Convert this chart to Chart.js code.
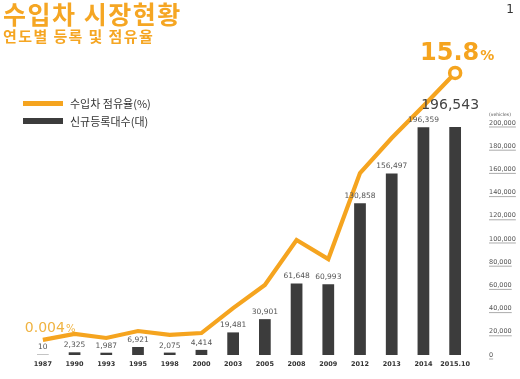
<!DOCTYPE html>
<html>
<head>
<meta charset="utf-8">
<script src="https://cdn.jsdelivr.net/npm/chart.js@4"></script>
<style>
  html, body { margin: 0; padding: 0; background: #fff; }
  #wrap { position: relative; width: 520px; height: 379px; overflow: hidden; }
  #c { position: absolute; left: 0; top: 0; }
  .t { position: absolute; white-space: nowrap; font-family: "Noto Sans CJK KR", sans-serif; }
  #title { left: 3px; top: 1px; font-size: 25px; line-height: 25px; font-weight: 700; color: #f5a623; letter-spacing: 1.5px; }
  #sub { left: 3px; top: 28px; font-size: 15px; line-height: 15px; font-weight: 700; color: #f5a623; letter-spacing: 1.4px; }
  #pg { right: 6px; top: 3px; font-size: 12px; line-height: 12px; color: #333; font-family: "DejaVu Sans", sans-serif; }
</style>
</head>
<body>
<div id="wrap">
  <canvas id="c" width="520" height="379"></canvas>
  <div class="t" id="title">수입차 시장현황</div>
  <div class="t" id="sub">연도별 등록 및 점유율</div>
  <div class="t" id="pg">1</div>
</div>
<script>
const categories = ['1987','1990','1993','1995','1998','2000','2003','2005','2008','2009','2012','2013','2014','2015.10'];
const registrations = [10, 2325, 1987, 6921, 2075, 4414, 19481, 30901, 61648, 60993, 130858, 156497, 196359, 196543];
const sharePercent = [0.004, 0.36, 0.12, 0.53, 0.30, 0.41, 1.89, 3.25, 5.92, 4.79, 9.88, 11.95, 13.85, 15.8];
const axisTickValues = [0, 20000, 40000, 60000, 80000, 100000, 120000, 140000, 160000, 180000, 200000];
const seriesNames = ['수입차 점유율(%)', '신규등록대수(대)'];
const axisUnit = '(vehicles)';

const ORANGE = '#f5a41f';
const BAR = '#3c3c3c';

const fmt = v => Number(v).toLocaleString('en-US');
const topTick = axisTickValues[axisTickValues.length - 1];

const annotations = {
  id: 'annotations',
  afterDatasetsDraw(chart) {
    const ctx = chart.ctx;
    const barMeta = chart.getDatasetMeta(1);
    const lineMeta = chart.getDatasetMeta(0);
    ctx.save();
    ctx.textAlign = 'center';
    ctx.textBaseline = 'middle';
    barMeta.data.forEach((bar, i) => {
      const last = i === registrations.length - 1;
      if (last) {
        ctx.font = '14px "DejaVu Sans"';
        ctx.fillStyle = '#444';
        ctx.fillText(fmt(registrations[i]), bar.x - 5, bar.y - 22);
      } else {
        ctx.font = '7.5px "DejaVu Sans"';
        ctx.fillStyle = '#555';
        ctx.fillText(fmt(registrations[i]), bar.x, bar.y - 7);
      }
    });
    const p0 = lineMeta.data[0];
    const pN = lineMeta.data[lineMeta.data.length - 1];
    ctx.textBaseline = 'alphabetic';
    ctx.textAlign = 'left';
    ctx.fillStyle = '#f0b340';
    ctx.font = '14px "DejaVu Sans"';
    const s0 = String(sharePercent[0]);
    const x0 = p0.x - 18;
    ctx.fillText(s0, x0, p0.y - 8);
    const w0 = ctx.measureText(s0).width;
    ctx.font = '10px "DejaVu Sans"';
    ctx.fillText('%', x0 + w0 + 1, p0.y - 8);

    ctx.fillStyle = ORANGE;
    ctx.font = 'bold 24px "DejaVu Sans"';
    const sN = String(sharePercent[sharePercent.length - 1]);
    const wN = ctx.measureText(sN).width;
    ctx.font = 'bold 14px "DejaVu Sans"';
    const wP = ctx.measureText('%').width;
    const xs = pN.x - (wN + wP + 1) / 2 + 2;
    ctx.font = 'bold 24px "DejaVu Sans"';
    ctx.fillText(sN, xs, pN.y - 13);
    ctx.font = 'bold 14px "DejaVu Sans"';
    ctx.fillText('%', xs + wN + 1, pN.y - 13);

    ctx.fillStyle = ORANGE;
    ctx.fillRect(23, 101, 40, 5);
    ctx.fillStyle = BAR;
    ctx.fillRect(23, 118, 40, 6);
    ctx.fillStyle = '#333';
    ctx.font = '11px "Noto Sans CJK KR"';
    ctx.textBaseline = 'middle';
    ctx.fillText(seriesNames[0], 70, 104);
    ctx.fillText(seriesNames[1], 70, 122);

    const yS = chart.scales.y;
    ctx.font = '4.5px "DejaVu Sans"';
    ctx.fillStyle = '#555';
    ctx.fillText(axisUnit, yS.left + 18, yS.getPixelForValue(topTick) - 8);

    ctx.strokeStyle = '#888';
    ctx.lineWidth = 0.7;
    ctx.font = '6.5px "DejaVu Sans"';
    yS.ticks.forEach(t => {
      const y = yS.getPixelForValue(t.value) + 4;
      const w = ctx.measureText(fmt(t.value)).width;
      ctx.beginPath();
      ctx.moveTo(yS.left + 18, y);
      ctx.lineTo(yS.left + 18 + w, y);
      ctx.stroke();
    });
    ctx.restore();
  }
};

new Chart(document.getElementById('c'), {
  data: {
    labels: categories,
    datasets: [
      {
        type: 'line',
        label: seriesNames[0],
        data: sharePercent,
        yAxisID: 'yLine',
        borderColor: ORANGE,
        borderWidth: 4.2,
        tension: 0,
        borderJoinStyle: 'miter',
        pointRadius: sharePercent.map((v, i) => i === sharePercent.length - 1 ? 5.5 : 0),
        pointBackgroundColor: '#fff',
        pointBorderColor: ORANGE,
        pointBorderWidth: 3.5,
        order: 0
      },
      {
        type: 'bar',
        label: seriesNames[1],
        data: registrations,
        yAxisID: 'y',
        backgroundColor: registrations.map((v, i) => i === 0 ? '#c4c4c4' : BAR),
        barPercentage: 0.37,
        categoryPercentage: 1,
        minBarLength: 1,
        order: 1
      }
    ]
  },
  options: {
    responsive: false,
    animation: false,
    layout: { padding: { left: 27, top: 60, right: 0, bottom: 0 } },
    plugins: { legend: { display: false }, tooltip: { enabled: false } },
    scales: {
      x: {
        grid: { display: false, drawTicks: false },
        border: { display: false },
        ticks: { color: '#333', font: { family: 'DejaVu Sans', size: 6.5, weight: 'bold' }, padding: 5, maxRotation: 0, autoSkip: false },
        afterFit(s) { s.height = 24; }
      },
      y: {
        position: 'right',
        min: 0,
        max: 254310,
        grid: { display: false, drawTicks: false },
        border: { display: false },
        ticks: { color: '#555', font: { family: 'DejaVu Sans', size: 6.5 }, padding: 18, callback: v => fmt(v) },
        afterBuildTicks(s) { s.ticks = axisTickValues.map(v => ({ value: v })); },
        afterFit(s) { s.width = 49; }
      },
      yLine: {
        display: false,
        min: -0.888,
        max: 16.568
      }
    }
  },
  plugins: [annotations]
});
</script>
</body>
</html>
